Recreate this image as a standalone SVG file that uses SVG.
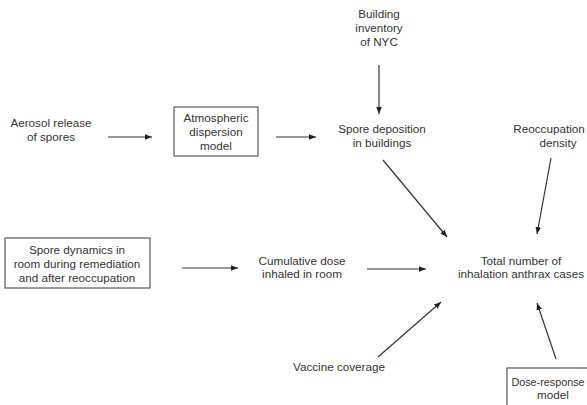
<svg xmlns="http://www.w3.org/2000/svg" width="587" height="405" viewBox="0 0 587 405">
<defs>
<marker id="ah" viewBox="0 0 10 10" refX="10" refY="5" markerWidth="7" markerHeight="7" markerUnits="userSpaceOnUse" orient="auto">
<path d="M0,1 L10,5 L0,9 Z" fill="#222"/>
</marker>
<style>
text{font-family:"Liberation Sans",Arial,sans-serif;font-size:11.7px;fill:#333;text-anchor:middle}
.box{fill:#fff;stroke:#666;stroke-width:1.3}
.c{stroke:#333;stroke-width:1.2;fill:none;marker-end:url(#ah)}
</style>
</defs>
<rect width="587" height="405" fill="#fff"/>
<g id="connectors">
<line class="c" x1="108" y1="137" x2="152" y2="137"/>
<line class="c" x1="276" y1="137" x2="316" y2="137"/>
<line class="c" x1="379" y1="65" x2="379" y2="114"/>
<line class="c" x1="383" y1="160" x2="447" y2="237"/>
<line class="c" x1="551" y1="158" x2="537" y2="234"/>
<line class="c" x1="182" y1="268" x2="238" y2="268"/>
<line class="c" x1="367" y1="269" x2="426" y2="269"/>
<line class="c" x1="378" y1="357" x2="441" y2="302"/>
<line class="c" x1="556" y1="359" x2="537" y2="303"/>
</g>
<g id="aerosol">
<text x="51" y="127">Aerosol release</text>
<text x="51" y="141">of spores</text>
</g>
<g id="atmospheric">
<rect class="box" x="174" y="107" width="84" height="49"/>
<text x="216" y="122">Atmospheric</text>
<text x="216" y="136">dispersion</text>
<text x="216" y="150">model</text>
</g>
<g id="building">
<text x="379" y="18">Building</text>
<text x="379" y="32">inventory</text>
<text x="379" y="46">of NYC</text>
</g>
<g id="deposition">
<text x="382" y="133">Spore deposition</text>
<text x="382" y="147">in buildings</text>
</g>
<g id="reoccupation">
<text x="549" y="133">Reoccupation</text>
<text x="558" y="147">density</text>
</g>
<g id="spore-dynamics">
<rect class="box" x="5" y="238" width="145" height="50"/>
<text x="77" y="254">Spore dynamics in</text>
<text x="77" y="268">room during remediation</text>
<text x="77" y="282">and after reoccupation</text>
</g>
<g id="cumulative">
<text x="302" y="265">Cumulative dose</text>
<text x="302" y="278">inhaled in room</text>
</g>
<g id="total">
<text x="521" y="265">Total number of</text>
<text x="521" y="278">inhalation anthrax cases</text>
</g>
<g id="vaccine">
<text x="339" y="371">Vaccine coverage</text>
</g>
<g id="dose-response">
<rect class="box" x="507" y="368" width="100" height="45"/>
<text x="548" y="386" style="font-size:10.8px">Dose-response</text>
<text x="553" y="399">model</text>
</g>
</svg>
